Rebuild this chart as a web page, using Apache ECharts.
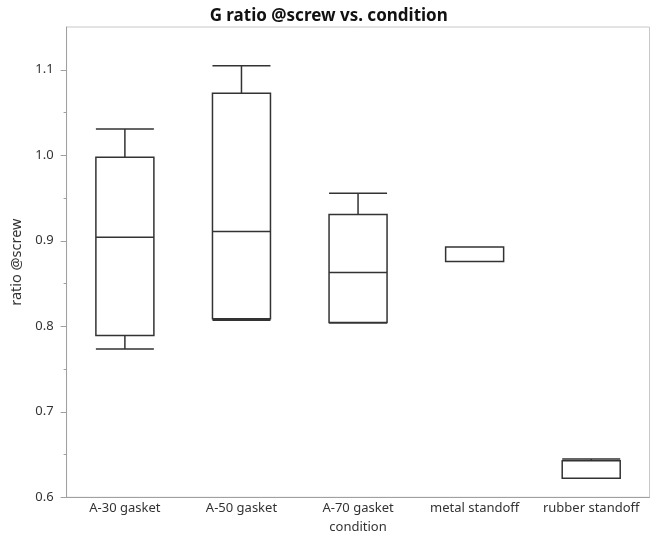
<!DOCTYPE html>
<html>
<head>
<meta charset="utf-8">
<script src="https://cdn.jsdelivr.net/npm/echarts@6/dist/echarts.min.js"></script>
<style>
html,body{margin:0;padding:0;background:#fff;}
#chart{width:652px;height:535px;}
</style>
</head>
<body>
<div id="chart"></div>
<script>
const categories = ['A-30 gasket', 'A-50 gasket', 'A-70 gasket', 'metal standoff', 'rubber standoff'];
const mins    = [0.7735, 0.8070, 0.8037, 0.8759, 0.6223];
const q1s     = [0.7891, 0.8087, 0.8043, 0.8759, 0.6223];
const medians = [0.9040, 0.9107, 0.8630, 0.8759, 0.6426];
const q3s     = [0.9978, 1.0725, 0.9306, 0.8926, 0.6426];
const maxs    = [1.0306, 1.1048, 0.9556, 0.8926, 0.6449];
const majorTicks = [0.6, 0.7, 0.8, 0.9, 1.0, 1.1];
const minorTicks = [0.65, 0.75, 0.85, 0.95, 1.05];
const titleText = 'G ratio @screw vs. condition';
const yName = 'ratio @screw';
const xName = 'condition';

const boxData = categories.map((c, i) => [mins[i], q1s[i], medians[i], q3s[i], maxs[i]]);
const FONT = 'Noto Sans';
const TXT = '#333333';

const chart = echarts.init(document.getElementById('chart'), null, {renderer: 'canvas'});
chart.setOption({
  animation: false,
  backgroundColor: '#ffffff',
  textStyle: {fontFamily: FONT},
  graphic: [{
    type: 'text',
    x: 328.7, y: 16.5,
    style: {
      text: titleText, textAlign: 'center', textVerticalAlign: 'middle',
      fontFamily: FONT, fontWeight: 'bold', fontSize: 17, fill: '#111'
    }
  }],
  grid: {
    left: 66.6, right: 2.5, top: 27, bottom: 37.7,
    containLabel: false, outerBoundsMode: 'none',
    show: true, borderColor: '#c8c8c8', borderWidth: 1, backgroundColor: 'transparent'
  },
  xAxis: {
    type: 'category',
    data: categories,
    axisLine: {show: true, lineStyle: {color: '#a0a0a0', width: 1}},
    axisTick: {show: false},
    axisLabel: {fontFamily: FONT, fontSize: 13, color: TXT, margin: 4, interval: 0},
    splitLine: {show: false},
    name: xName, nameLocation: 'middle', nameGap: 23,
    nameTextStyle: {fontFamily: FONT, fontSize: 13, color: TXT}
  },
  yAxis: [{
    type: 'value', min: 0.6, max: 1.15, position: 'left',
    axisLine: {show: true, lineStyle: {color: '#a0a0a0', width: 1}},
    axisTick: {show: true, customValues: majorTicks, length: 6, lineStyle: {color: '#a0a0a0'}},
    axisLabel: {customValues: majorTicks, formatter: v => Number(v).toFixed(1),
      fontFamily: FONT, fontSize: 13, color: TXT, margin: 13},
    splitLine: {show: false},
    name: yName, nameLocation: 'middle', nameGap: 39, nameRotate: 90,
    nameTextStyle: {fontFamily: FONT, fontSize: 14.5, color: TXT}
  }, {
    type: 'value', min: 0.6, max: 1.15, position: 'left',
    axisLine: {show: false},
    axisTick: {show: true, customValues: minorTicks, length: 3, lineStyle: {color: '#a0a0a0'}},
    axisLabel: {show: false},
    splitLine: {show: false}
  }],
  series: [{
    type: 'boxplot',
    yAxisIndex: 0,
    data: boxData,
    boxWidth: [58, 58],
    itemStyle: {color: '#ffffff', borderColor: '#333333', borderWidth: 1.5},
    emphasis: {disabled: true},
    silent: true
  }]
});
</script>
</body>
</html>
